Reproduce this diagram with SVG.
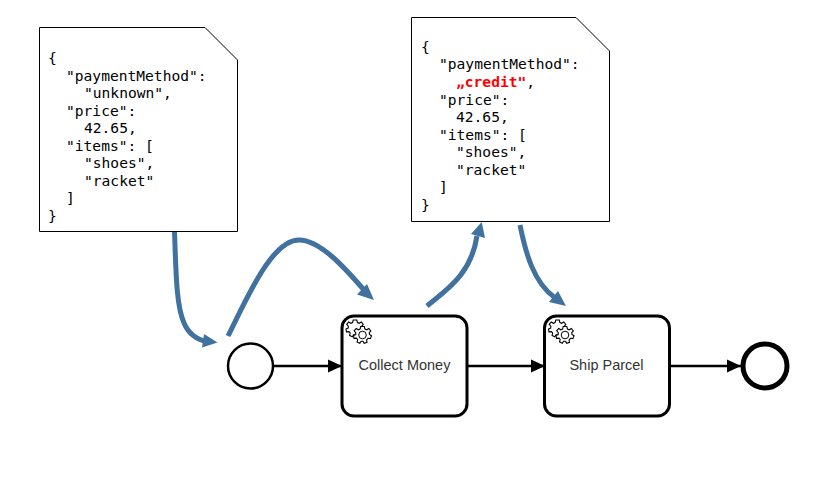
<svg xmlns="http://www.w3.org/2000/svg" width="829" height="484" viewBox="0 0 829 484">
<style>
.doc{fill:#fff;stroke:#000;stroke-width:1}
.code{font-family:"DejaVu Sans Mono",monospace;font-size:14.6px;fill:#000;white-space:pre}
.red{fill:#f00;font-weight:bold}
.task{fill:#fff;stroke:#000;stroke-width:3}
.lbl{font-family:"Liberation Sans",Arial,sans-serif;font-size:14.5px;fill:#333;text-anchor:middle}
.flow{fill:none;stroke:#000;stroke-width:2.5}
.data{fill:none;stroke:#41719f;stroke-width:5}
.head{fill:#41719f}
.gear{fill:#fff;stroke:#000;stroke-width:1.1}
</style>
<defs>
<marker id="seq" markerUnits="userSpaceOnUse" markerWidth="16" markerHeight="16" refX="15" refY="8" orient="auto"><path d="M1 1.500L15 8L1 14.500Z" fill="#000"/></marker>
<path id="g" d="M-1.800-8.500L1.800-8.500L2.400-6L4.200-5.200L6.300-6.500L8.300-4.100L6.700-2.400L7-.5L9 .8L7.900 3.600L5.500 3.300L4.100 4.900L4.500 7.300L1.700 8.300L.5 6.200L-1.400 6.200L-2.700 8.200L-5.400 6.900L-4.800 4.500L-6.100 3.100L-8.500 3.400L-9 .6L-6.800-.4L-6.700-2.400L-8.300-4.200L-6.300-6.500L-4.200-5.200L-2.400-6Z"/>
</defs>
<g id="connectors">
<path class="flow" d="M274 366H342" marker-end="url(#seq)"/>
<path class="flow" d="M468 366H545" marker-end="url(#seq)"/>
<path class="flow" d="M670 366H741" marker-end="url(#seq)"/>
<g id="data-flows">
<path class="data" d="M174.500 232C176 270 176 305 184 323C189 335 198 340 208 342"/>
<path class="head" d="M204 334L217.500 342.500L202 347.500Z"/>
<path class="data" d="M228 336C248 296 272 240 299 240C320 240 345 268 364 290"/>
<path class="head" d="M357 294.500L367 284L374 300Z"/>
<path class="data" d="M427 306C446 290 471 275 477 236"/>
<path class="head" d="M471 234L481.700 222L485 238Z"/>
<path class="data" d="M520 225C526 255 534 282 554 297"/>
<path class="head" d="M549 302L558 291L566 306Z"/>
</g>
</g>
<g id="doc-unknown">
<path class="doc" d="M39.500 27.500H205L237.500 60V231.500H39.500Z"/>
<text class="code" x="48" y="63">{</text>
<text class="code" x="66" y="81">"paymentMethod":</text>
<text class="code" x="84" y="98">"unknown",</text>
<text class="code" x="66" y="116">"price":</text>
<text class="code" x="84" y="133">42.65,</text>
<text class="code" x="66" y="151">"items": [</text>
<text class="code" x="84" y="168">"shoes",</text>
<text class="code" x="84" y="186">"racket"</text>
<text class="code" x="66" y="203">]</text>
<text class="code" x="48" y="221">}</text>
</g>
<g id="doc-credit">
<path class="doc" d="M411.500 17.500H576L609.500 51V221.500H411.500Z"/>
<text class="code" x="421" y="52">{</text>
<text class="code" x="439" y="69">"paymentMethod":</text>
<text class="code" x="456" y="87"><tspan class="red">„credit"</tspan>,</text>
<text class="code" x="439" y="105">"price":</text>
<text class="code" x="456" y="122">42.65,</text>
<text class="code" x="439" y="140">"items": [</text>
<text class="code" x="456" y="157">"shoes",</text>
<text class="code" x="456" y="175">"racket"</text>
<text class="code" x="439" y="192">]</text>
<text class="code" x="421" y="210">}</text>
</g>
<g id="start-event"><circle cx="250.500" cy="366" r="22.500" fill="#fff" stroke="#000" stroke-width="2.500"/></g>
<g id="task-collect">
<rect class="task" x="342" y="316" width="125" height="100" rx="12"/>
<use href="#g" class="gear" x="355" y="328.500"/>
<use href="#g" class="gear" x="362.500" y="335"/>
<circle cx="362.500" cy="335" r="3.800" fill="#fff" stroke="#000"/>
<text class="lbl" x="404.500" y="370">Collect Money</text>
</g>
<g id="task-ship">
<rect class="task" x="544.500" y="316" width="125" height="100" rx="12"/>
<use href="#g" class="gear" x="557.500" y="328.500"/>
<use href="#g" class="gear" x="565" y="335"/>
<circle cx="565" cy="335" r="3.800" fill="#fff" stroke="#000"/>
<text class="lbl" x="606.500" y="370">Ship Parcel</text>
</g>
<g id="end-event"><circle cx="765" cy="366" r="22" fill="#fff" stroke="#000" stroke-width="5"/></g>
</svg>
